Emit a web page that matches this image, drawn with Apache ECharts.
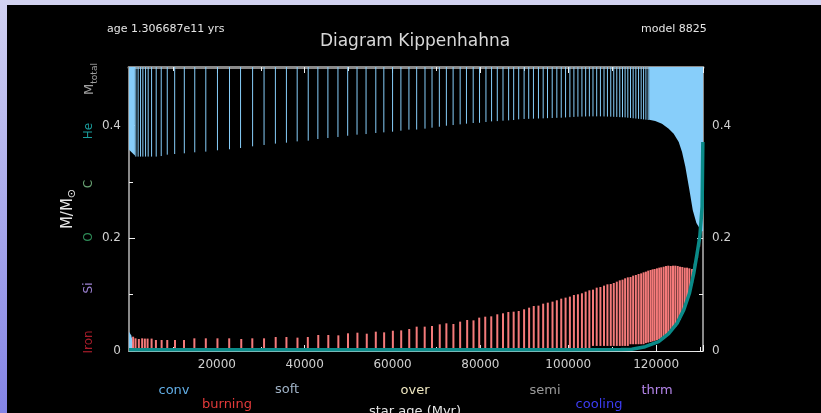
<!DOCTYPE html>
<html>
<head>
<meta charset="utf-8">
<script src="https://cdn.jsdelivr.net/npm/echarts@6/dist/echarts.min.js"></script>
<style>
  html, body { margin: 0; padding: 0; background: #000; }
  #band-top { position: absolute; left: 0; top: 0; width: 821px; height: 5px; background: #d2d2f0; }
  #band-left { position: absolute; left: 0; top: 0; width: 7px; height: 413px; background: linear-gradient(#d2d2f2, #8383e6); }
  #main { position: absolute; left: 0; top: 0; width: 821px; height: 413px; }
</style>
</head>
<body>
<div id="band-top"></div>
<div id="band-left"></div>
<div id="main"></div>
<script>
// star age in Myr, masses in M_sun
var ageMax = 130669;
var mTop = 0.504;

// convective envelope: blue vertical lines (age, lower boundary)
var blueAges = [1554, 2080, 2629, 3154, 3771, 4366, 5143, 6194, 7337, 8709,
    10400, 12594, 14971, 17486, 20137, 22880, 25394, 28137, 30743, 33326,
    35840, 38286, 40800, 42994, 45280, 47566, 49783, 51909, 53966, 56183,
    58011, 60000, 61897, 63726,
    65486, 67383, 68983, 70651, 72251, 73783, 75383, 76823, 78354, 79794,
    81257, 82537, 83840, 85143, 86423, 87566, 88709, 89943, 90994, 92069,
    93211, 94286, 95269, 96343, 97394, 98400, 99383, 100366, 101280, 102194,
    103109, 103954, 104800, 105623, 106469, 107314, 108137, 108914, 109669, 110354,
    111040, 111726, 112343, 112937, 113554, 114171, 114766, 115383, 116000, 116594,
    117143, 117669, 118194];
var blueBottom = [0.345, 0.345, 0.345, 0.345, 0.345, 0.345, 0.345, 0.345, 0.346, 0.3484,
    0.3496, 0.3508, 0.3526, 0.3538, 0.3562, 0.358, 0.3602, 0.3632, 0.3656, 0.368,
    0.3697, 0.372, 0.3733, 0.3762, 0.378, 0.3798, 0.382, 0.3839, 0.385, 0.3869,
    0.388, 0.3892, 0.391, 0.3928,
    0.393, 0.3946, 0.3963, 0.398, 0.3998, 0.401, 0.4022, 0.4034, 0.4046, 0.405,
    0.4064, 0.4075, 0.408, 0.4087, 0.4093, 0.4099, 0.4111, 0.4118, 0.412, 0.4123,
    0.4126, 0.4129, 0.4132, 0.4135, 0.4138, 0.414, 0.4145, 0.415, 0.4154, 0.4158,
    0.416, 0.4162, 0.4164, 0.4164, 0.4164, 0.4164, 0.4162, 0.416, 0.4158, 0.4156,
    0.4154, 0.415, 0.4148, 0.4146, 0.414, 0.4136, 0.413, 0.4125, 0.412, 0.4115,
    0.411, 0.4105, 0.41];

// early envelope block and late continuous envelope
var envEarlyAges = [0, 1350];
var envEarlyBottom = [0.357, 0.347];
var envLateAges = [118400, 119790, 121326, 122857, 124000, 125143, 125897, 126651,
    127566, 128343, 129166, 130080, 130669];
var envLateBottom = [0.4105, 0.408, 0.4034, 0.3946, 0.3857, 0.371, 0.353, 0.327,
    0.286, 0.25, 0.227, 0.215, 0.212];

// initial convective core
var coreAges = [0, 500, 1000, 1300];
var coreTop = [0.034, 0.028, 0.012, 0.0];

// burning zones: red vertical lines
var redAges = [937, 1486, 2240, 2994, 3611, 4229, 5143, 6126, 7429, 8709,
    10469, 12526, 14880, 17486, 20137, 22811, 25554, 28069, 30743, 33394,
    35840, 38354, 40709, 43086, 45371, 47657, 49851, 52000, 54126, 56183,
    58080, 60069, 61966, 63794,
    65486, 67314, 68983, 70743, 72251, 73851, 75383, 76983, 78423, 79726,
    81097, 82469, 83840, 85143, 86354, 87566, 88709, 89943, 91086, 92137,
    93211, 94286,
    95337, 96411, 97394, 98400, 99383, 100366, 101280, 102194, 103109, 103954,
    104800,
    105623, 106469, 107314, 108137, 108914, 109669, 110354, 111040, 111726, 112343,
    112937, 113554,
    114171, 114766, 115383, 116000, 116594, 117143,
    117669, 118194, 118743, 119200, 119657, 120183, 120709, 121166, 121714, 122240,
    122766, 123314, 123840, 124366, 124914, 125440, 125966, 126514, 127040, 127566,
    128183, 128800, 129326, 129800];
var redTop = [0.0254, 0.0225, 0.0213, 0.0225, 0.022, 0.022, 0.022, 0.0195, 0.0195, 0.0195,
    0.0195, 0.0195, 0.0225, 0.0225, 0.0225, 0.0225, 0.0213, 0.0225, 0.0225, 0.0248,
    0.0248, 0.0237, 0.0248, 0.0284, 0.0284, 0.0278, 0.0314, 0.0325, 0.0307, 0.0343,
    0.0331, 0.036, 0.0366, 0.039,
    0.0432, 0.0432, 0.0444, 0.0473, 0.0491, 0.0479, 0.0521, 0.055, 0.0544, 0.0592,
    0.0609, 0.0615, 0.0651, 0.0669, 0.0692, 0.0698, 0.071, 0.074, 0.0769, 0.0799,
    0.0805, 0.084,
    0.0858, 0.0876, 0.09, 0.0929, 0.0947, 0.0965, 0.0994, 0.1006, 0.1024, 0.1053,
    0.1077,
    0.1089, 0.1124, 0.1136, 0.116, 0.1183, 0.1189, 0.1207, 0.123, 0.1254, 0.1266,
    0.129, 0.1307,
    0.1313, 0.1337, 0.1349, 0.1367, 0.1378, 0.1396,
    0.1408, 0.1426, 0.1437, 0.1449, 0.1455, 0.1467, 0.1479, 0.1485, 0.1496, 0.1508,
    0.1514, 0.1508, 0.1514, 0.1514, 0.1508, 0.1496, 0.149, 0.1479, 0.1479, 0.1467,
    0.1455, 0.155, 0.178, 0.195];
var redBottom = [0.003, 0.003, 0.003, 0.003, 0.003, 0.003, 0.003, 0.003, 0.003, 0.003,
    0.003, 0.003, 0.003, 0.003, 0.003, 0.003, 0.003, 0.003, 0.003, 0.003,
    0.003, 0.003, 0.003, 0.003, 0.003, 0.003, 0.003, 0.003, 0.003, 0.003,
    0.003, 0.003, 0.003, 0.003,
    0.003, 0.003, 0.003, 0.003, 0.003, 0.003, 0.003, 0.003, 0.003, 0.003,
    0.003, 0.003, 0.003, 0.003, 0.003, 0.003, 0.003, 0.003, 0.003, 0.003,
    0.003, 0.003,
    0.005, 0.005, 0.005, 0.005, 0.005, 0.005, 0.005, 0.005, 0.005, 0.005,
    0.005,
    0.009, 0.009, 0.009, 0.009, 0.009, 0.009, 0.009, 0.009, 0.009, 0.009,
    0.009, 0.009,
    0.012, 0.012, 0.012, 0.012, 0.012, 0.012,
    0.014, 0.015, 0.016, 0.017, 0.018, 0.019, 0.021, 0.023, 0.026, 0.028,
    0.031, 0.035, 0.039, 0.043, 0.049, 0.055, 0.066, 0.077, 0.089, 0.102,
    0.12, 0.142, 0.165, 0.185];

// helium core mass
var heAges = [0, 100000, 112000, 114468, 117509, 120571, 122857, 124754, 126286,
    127566, 128571, 129326, 129943, 130469, 130629];
var heCore = [0.002, 0.002, 0.0025, 0.003, 0.0076, 0.0165, 0.031, 0.049, 0.073,
    0.102, 0.138, 0.173, 0.203, 0.256, 0.371];

function vline(color, width) {
    return function (params, api) {
        var p1 = api.coord([api.value(0), api.value(1)]);
        var p2 = api.coord([api.value(0), api.value(2)]);
        return {
            type: 'line',
            shape: { x1: p1[0], y1: p1[1], x2: p2[0], y2: p2[1] },
            style: { stroke: color, lineWidth: width }
        };
    };
}

// polygon between an upper path and a lower path
function band(ages, upper, lower, color) {
    return function (params, api) {
        var pts = [];
        for (var i = 0; i < ages.length; i++) pts.push(api.coord([ages[i], upper[i]]));
        for (var j = ages.length - 1; j >= 0; j--) pts.push(api.coord([ages[j], lower[j]]));
        return { type: 'polygon', shape: { points: pts }, style: { fill: color } };
    };
}

function constArr(n, v) {
    var a = [];
    for (var i = 0; i < n; i++) a.push(v);
    return a;
}

var tickColor = '#f0f0f0';
var labelColor = '#d0d0d0';
var font = 'DejaVu Sans';

function yLabel(v) {
    if (v > 0.5) return '';
    return v === 0 ? '0' : v.toFixed(1);
}
function xLabel(v) {
    if (v === 0 || v > 130000) return '';
    return String(v);
}

function vtext(x, y, text, color, size) {
    return {
        type: 'text', x: x, y: y, rotation: Math.PI / 2,
        style: { text: text, fill: color, font: size + 'px ' + font, textAlign: 'center', textVerticalAlign: 'middle' }
    };
}
function htext(x, y, text, color, size, align) {
    return {
        type: 'text', x: x, y: y,
        style: { text: text, fill: color, font: size + 'px ' + font, textAlign: align || 'center', textVerticalAlign: 'middle' }
    };
}

var option = {
    backgroundColor: 'transparent',
    animation: false,
    grid: { left: 129, right: 118, top: 67, bottom: 62 },
    xAxis: [
        {
            type: 'value', min: 0, max: ageMax, interval: 20000, position: 'bottom',
            axisLine: { show: true, onZero: false, lineStyle: { color: '#e6e6e6', width: 1 } },
            axisTick: { show: true, inside: true, length: 6, lineStyle: { color: tickColor } },
            minorTick: { show: true, splitNumber: 2, length: 4, lineStyle: { color: tickColor } },
            splitLine: { show: false },
            axisLabel: { color: labelColor, fontSize: 12, fontFamily: font, margin: 8, formatter: xLabel }
        },
        {
            type: 'value', min: 0, max: ageMax, interval: 20000, position: 'top',
            axisLine: { show: true, onZero: false, lineStyle: { color: '#8a8a8a', width: 3 } },
            axisTick: { show: true, inside: true, length: 6, lineStyle: { color: tickColor } },
            minorTick: { show: true, splitNumber: 2, length: 4, lineStyle: { color: tickColor } },
            splitLine: { show: false },
            axisLabel: { show: false }
        }
    ],
    yAxis: [
        {
            type: 'value', min: 0, max: mTop, interval: 0.2, position: 'left',
            axisLine: { show: true, onZero: false, lineStyle: { color: '#8a8a8a', width: 2 } },
            axisTick: { show: true, inside: true, length: 6, lineStyle: { color: tickColor } },
            minorTick: { show: true, splitNumber: 2, length: 4, lineStyle: { color: tickColor } },
            splitLine: { show: false },
            axisLabel: { color: labelColor, fontSize: 12, fontFamily: font, margin: 8, formatter: yLabel }
        },
        {
            type: 'value', min: 0, max: mTop, interval: 0.2, position: 'right',
            axisLine: { show: true, onZero: false, lineStyle: { color: '#8a8a8a', width: 2 } },
            axisTick: { show: true, inside: true, length: 6, lineStyle: { color: tickColor } },
            minorTick: { show: true, splitNumber: 2, length: 4, lineStyle: { color: tickColor } },
            splitLine: { show: false },
            axisLabel: { color: labelColor, fontSize: 12, fontFamily: font, margin: 9, formatter: yLabel }
        }
    ],
    series: [
        {
            type: 'custom', name: 'env-early', z: 2, silent: true,
            renderItem: band(envEarlyAges, constArr(envEarlyAges.length, mTop), envEarlyBottom, '#87cefa'),
            data: [[envEarlyAges[0], envEarlyBottom[0]]]
        },
        {
            type: 'custom', name: 'env-late', z: 2, silent: true,
            renderItem: band(envLateAges, constArr(envLateAges.length, mTop), envLateBottom, '#87cefa'),
            data: [[envLateAges[0], envLateBottom[0]]]
        },
        {
            type: 'custom', name: 'core', z: 2, silent: true,
            renderItem: band(coreAges, coreTop, constArr(coreAges.length, 0), '#87cefa'),
            data: [[coreAges[0], coreTop[0]]]
        },
        {
            type: 'custom', name: 'conv', z: 2, silent: true,
            renderItem: vline('#87cefa', 1),
            data: blueAges.map(function (a, i) { return [a, blueBottom[i], mTop]; })
        },
        {
            type: 'custom', name: 'burning', z: 3, silent: true,
            renderItem: vline('#f47a7a', 2),
            data: redAges.map(function (a, i) { return [a, redBottom[i], redTop[i]]; })
        },
        {
            type: 'line', name: 'He', z: 4, silent: true,
            showSymbol: false, smooth: false,
            lineStyle: { color: '#0a8a88', width: 3.5 },
            data: heAges.map(function (a, i) { return [a, heCore[i]]; })
        }
    ],
    graphic: [
        htext(107, 29, 'age 1.306687e11 yrs', '#e6e6e6', 11, 'left'),
        htext(641, 29, 'model 8825', '#e6e6e6', 11, 'left'),
        htext(415, 42, 'Diagram Kippenhahna', '#d8d8d8', 17),
        {
            type: 'text', x: 68, y: 209, rotation: Math.PI / 2,
            style: {
                text: '{m|M/M}{s|⊙}', textAlign: 'center', textVerticalAlign: 'middle',
                rich: {
                    m: { fill: '#e6e6e6', font: '15px ' + font, lineHeight: 20, verticalAlign: 'middle' },
                    s: { fill: '#e6e6e6', font: '11px ' + font, lineHeight: 20, verticalAlign: 'bottom' }
                }
            }
        },
        {
            type: 'text', x: 90, y: 79, rotation: Math.PI / 2,
            style: {
                text: '{m|M}{s|total}', textAlign: 'center', textVerticalAlign: 'middle',
                rich: {
                    m: { fill: '#a0a0a0', font: '13px ' + font, lineHeight: 18, verticalAlign: 'middle' },
                    s: { fill: '#a0a0a0', font: '9px ' + font, lineHeight: 18, verticalAlign: 'bottom' }
                }
            }
        },
        vtext(89, 131, 'He', '#1a9c9c', 12),
        vtext(89, 184, 'C', '#6aa474', 12),
        vtext(89, 237, 'O', '#2e8b57', 12),
        vtext(89, 288, 'Si', '#9b80d0', 12),
        vtext(89, 342, 'Iron', '#a81c2a', 12),
        htext(174, 391, 'conv', '#62aee6', 13),
        htext(227, 405, 'burning', '#e23a3a', 13),
        htext(287, 390, 'soft', '#9fb2c6', 13),
        htext(415, 391, 'over', '#efe7c0', 13),
        htext(415, 412, 'star age (Myr)', '#e6e6e6', 13),
        htext(545, 391, 'semi', '#9a9a9a', 13),
        htext(599, 405, 'cooling', '#3c3cf2', 13),
        htext(657, 391, 'thrm', '#b485ea', 13)
    ]
};

var chart = echarts.init(document.getElementById('main'));
chart.setOption(option);
</script>
</body>
</html>
